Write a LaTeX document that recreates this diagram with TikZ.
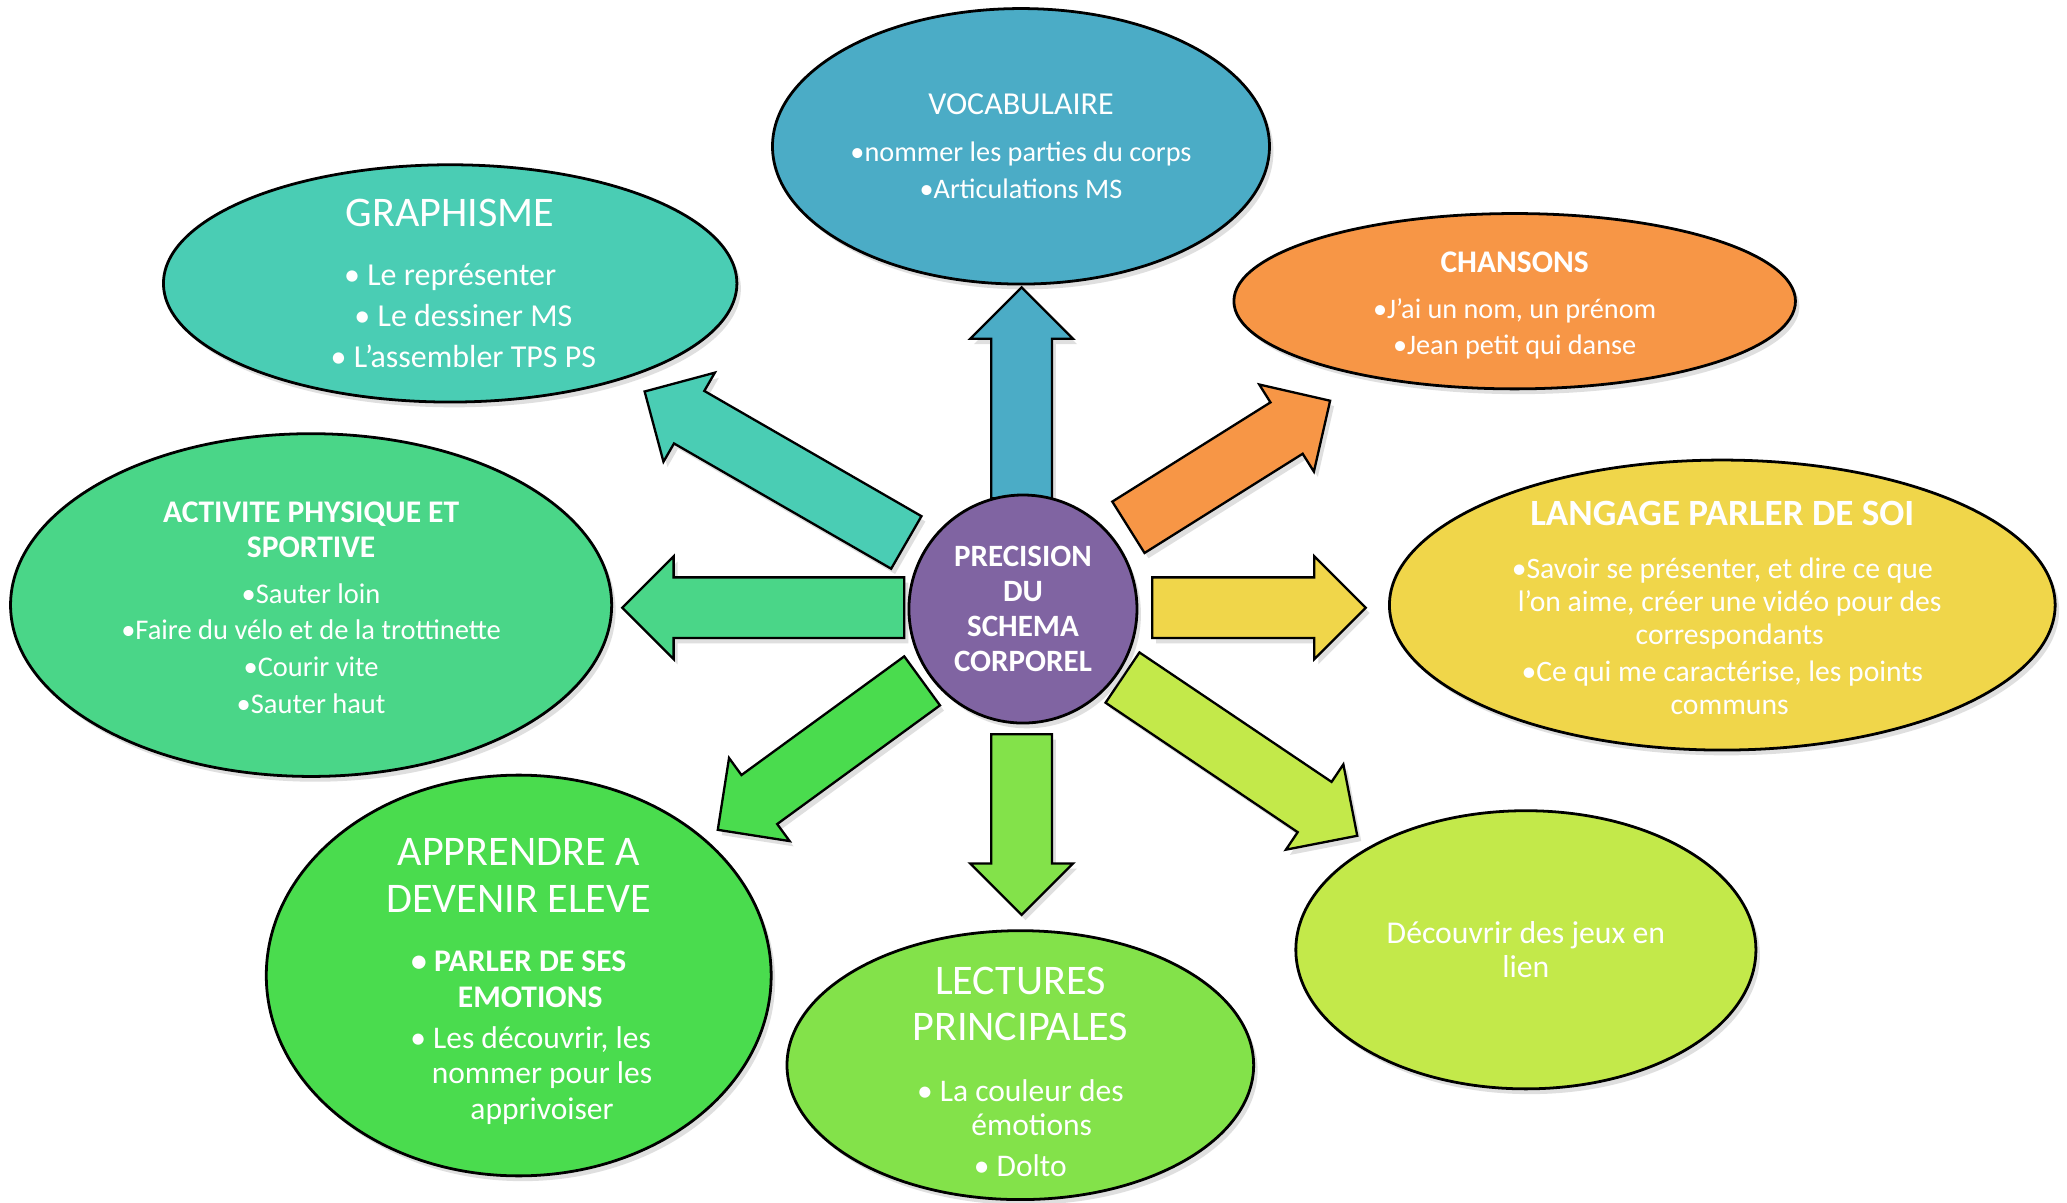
\documentclass[tikz,border=0pt]{standalone}
\usepackage{fontspec}
\setmainfont{Carlito}
\usetikzlibrary{shapes.geometric,calc,shadows}
\definecolor{vocblue}{RGB}{75,172,198}
\definecolor{graturq}{RGB}{74,205,180}
\definecolor{chaorange}{RGB}{247,150,70}
\definecolor{actgreen}{RGB}{74,214,136}
\definecolor{lanyellow}{RGB}{240,214,74}
\definecolor{appgreen}{RGB}{74,220,78}
\definecolor{lecgreen}{RGB}{131,226,74}
\definecolor{declime}{RGB}{195,233,74}
\definecolor{ctrpurple}{RGB}{128,100,162}
\newcommand{\bigtitle}[1]{{\fontsize{9.1}{10}\selectfont #1}}
\newcommand{\hang}{\hphantom{• }}
\newcommand{\blockarrow}[3]{%
  \coordinate (hb) at ($(#2)!0.39cm!(#1)$);
  \filldraw[fill=#3,draw=black,line width=0.5pt,drop shadow={opacity=0.25,shadow xshift=0.03cm,shadow yshift=-0.04cm}]
    ($(#1)!0.23cm!-90:(#2)$) -- ($(hb)!0.23cm!-90:(#2)$) -- ($(hb)!0.39cm!-90:(#2)$) -- (#2)
    -- ($(hb)!0.39cm!90:(#2)$) -- ($(hb)!0.23cm!90:(#2)$) -- ($(#1)!0.23cm!90:(#2)$) -- cycle;}

\begin{document}
\begin{tikzpicture}[
  bubble/.style={ellipse,draw=black,line width=0.6pt,inner sep=0pt,drop shadow={opacity=0.25,shadow xshift=0.03cm,shadow yshift=-0.04cm}},
  bubtext/.style={text=white,align=center,inner sep=0pt,font=\fontsize{6.8}{7.9}\selectfont}]
\fill[white] (0,0) rectangle (15.68,9.12);

\node[bubble,fill=vocblue,minimum width=3.77cm,minimum height=2.09cm] (voc) at (7.745,8.01) {};
\node[bubble,fill=graturq,minimum width=4.35cm,minimum height=1.80cm] (gra) at (3.415,6.97) {};
\node[bubble,fill=chaorange,minimum width=4.26cm,minimum height=1.33cm] (cha) at (11.49,6.835) {};
\node[bubble,fill=actgreen,minimum width=4.56cm,minimum height=2.60cm] (act) at (2.36,4.53) {};
\node[bubble,fill=lanyellow,minimum width=5.05cm,minimum height=2.20cm] (lan) at (13.065,4.53) {};
\node[bubble,fill=appgreen,minimum width=3.83cm,minimum height=3.04cm] (app) at (3.935,1.72) {};
\node[bubble,fill=lecgreen,minimum width=3.54cm,minimum height=2.04cm] (lec) at (7.74,1.04) {};
\node[bubble,fill=declime,minimum width=3.49cm,minimum height=2.11cm] (dec) at (11.575,1.915) {};

\node[bubtext,font=\fontsize{6.1}{8}\selectfont] (voc-t) at (voc.center) {{\fontsize{6.9}{8}\selectfont VOCABULAIRE}\\[2pt]
  •nommer les parties du corps\\•Articulations MS};
\node[bubtext,font=\fontsize{6.9}{8.8}\selectfont] (gra-t) at (gra.center) {\bigtitle{GRAPHISME}\\[4pt]
  • Le représenter\\\hspace*{0.2cm}• Le dessiner MS\\\hspace*{0.2cm}• L’assembler TPS PS};
\node[bubtext,font=\fontsize{6.1}{7.7}\selectfont,yshift=-0.03cm] (cha-t) at (cha.center) {{\bfseries\fontsize{6.8}{7.7}\selectfont CHANSONS}\\[2.3pt]
  •J’ai un nom, un prénom\\•Jean petit qui danse};
\node[bubtext,font=\fontsize{6.15}{7.9}\selectfont,yshift=-0.02cm] (act-t) at (act.center) {{\bfseries\fontsize{6.8}{7.9}\selectfont ACTIVITE PHYSIQUE ET}\\[-0.5pt]{\bfseries\fontsize{6.8}{7.9}\selectfont SPORTIVE}\\[2.1pt]
  •Sauter loin\\•Faire du vélo et de la trottinette\\•Courir vite\\•Sauter haut};
\node[bubtext,font=\fontsize{6.4}{7.1}\selectfont,yshift=-0.02cm] (lan-t) at (lan.center) {{\bfseries\fontsize{8}{9}\selectfont LANGAGE PARLER DE SOI}\\[4.3pt]
  •Savoir se présenter, et dire ce que\\\hphantom{•}l’on aime, créer une vidéo pour des\\\hphantom{•}correspondants\\[0.9pt]
  •Ce qui me caractérise, les points\\\hphantom{•}communs};
\node[bubtext,font=\fontsize{6.8}{7.7}\selectfont,yshift=-0.045cm] (app-t) at (app.center) {\bigtitle{APPRENDRE A}\\[2.5pt]\bigtitle{DEVENIR ELEVE}\\[5.1pt]
  \textbf{• PARLER DE SES}\\\textbf{\hang EMOTIONS}\\[1.1pt]
  \hspace*{0.18cm}• Les découvrir, les\\\hspace*{0.18cm}\hang nommer pour les\\\hspace*{0.18cm}\hang apprivoiser};
\node[bubtext,font=\fontsize{6.8}{7.4}\selectfont,yshift=-0.05cm] (lec-t) at (lec.center) {\bigtitle{LECTURES}\\[2.6pt]\bigtitle{PRINCIPALES}\\[5.7pt]
  • La couleur des\\\hang émotions\\[1.4pt]• Dolto};
\node[bubtext,font=\fontsize{6.85}{7.4}\selectfont] (dec-t) at (dec.center) {Découvrir des jeux en\\lien};

\coordinate (voc-a) at (7.75,5.34);   \coordinate (voc-b) at (7.75,6.94);
\coordinate (lec-a) at (7.75,3.55);   \coordinate (lec-b) at (7.75,2.18);
\coordinate (act-a) at (6.86,4.51);   \coordinate (act-b) at (4.72,4.51);
\coordinate (lan-a) at (8.74,4.51);   \coordinate (lan-b) at (10.36,4.51);
\coordinate (gra-a) at (6.875,5.005); \coordinate (gra-b) at (4.89,6.15);
\coordinate (cha-a) at (8.56,5.12);   \coordinate (cha-b) at (10.09,6.08);
\coordinate (app-a) at (6.995,3.955); \coordinate (app-b) at (5.445,2.825);
\coordinate (dec-a) at (8.515,3.98);  \coordinate (dec-b) at (10.296,2.78);

\blockarrow{voc-a}{voc-b}{vocblue}
\blockarrow{gra-a}{gra-b}{graturq}
\blockarrow{cha-a}{cha-b}{chaorange}
\blockarrow{act-a}{act-b}{actgreen}
\blockarrow{lan-a}{lan-b}{lanyellow}
\blockarrow{app-a}{app-b}{appgreen}
\blockarrow{lec-a}{lec-b}{lecgreen}
\blockarrow{dec-a}{dec-b}{declime}

\node[circle,draw=black,line width=0.6pt,fill=ctrpurple,minimum size=1.73cm,inner sep=0pt,
  text=white,align=center,font=\bfseries\fontsize{6.7}{7.5}\selectfont,
  drop shadow={opacity=0.25,shadow xshift=0.03cm,shadow yshift=-0.04cm}] (ctr) at (7.76,4.50)
  {PRECISION\\DU\\SCHEMA\\CORPOREL};
\end{tikzpicture}
\end{document}
